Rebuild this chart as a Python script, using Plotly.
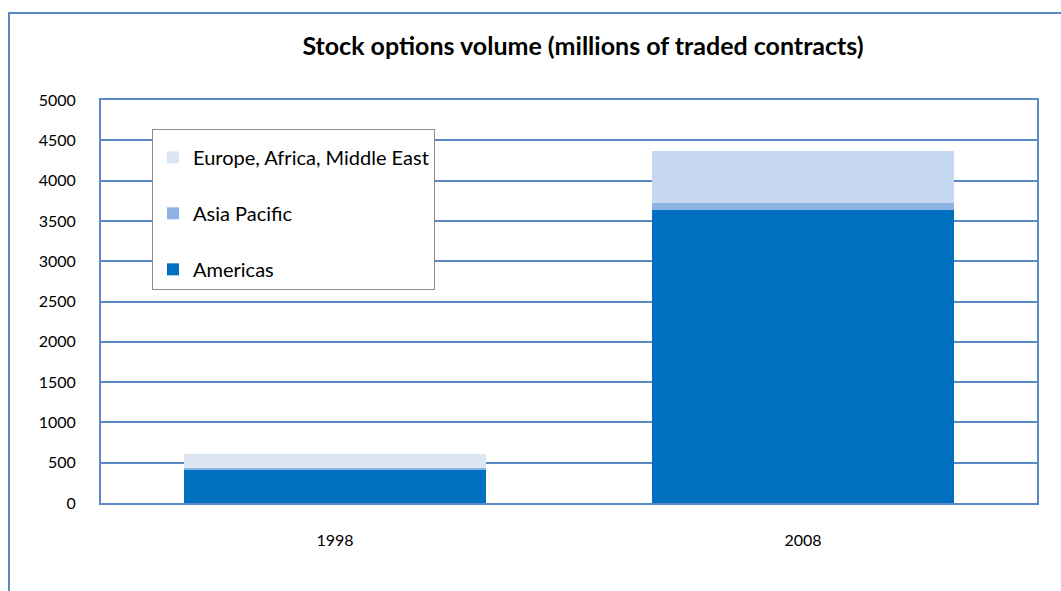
import plotly.graph_objects as go

# Stock options volume, millions of traded contracts
years = ["1998", "2008"]
americas = [413, 3636]
asia_pacific = [20, 83]
emea = [177, 648]

y_ticks = [0, 500, 1000, 1500, 2000, 2500, 3000, 3500, 4000, 4500, 5000]

FONT = "Lato"
AXIS_BLUE = "#5B89C6"

fig = go.Figure()
fig.add_trace(go.Bar(x=years, y=americas, name="Americas",
                     marker=dict(color="#0070C0", line=dict(width=0)),
                     legendgroup="a", legendrank=3))
fig.add_trace(go.Bar(x=years, y=asia_pacific, name="Asia Pacific",
                     marker=dict(color="#8DB3E2", line=dict(width=0)),
                     legendgroup="b", legendrank=2))
fig.add_trace(go.Bar(x=years, y=emea, name="Europe, Africa, Middle East",
                     marker=dict(color=["#DCE6F2", "#C6D9F1"], line=dict(width=0)),
                     legendgroup="c", legendrank=1))

# outer chart frame (partly clipped by the page edge)
fig.add_shape(type="rect", xref="paper", yref="paper",
              x0=-0.0983, x1=1.2, y0=-0.4, y1=1.2157,
              line=dict(color=AXIS_BLUE, width=2), fillcolor="rgba(0,0,0,0)",
              layer="below")

fig.update_layout(
    width=1061, height=591,
    margin=dict(l=101, r=24, t=100, b=88),
    paper_bgcolor="white", plot_bgcolor="white",
    barmode="stack", bargap=0.353,
    showlegend=True,
    title=dict(text="<b>Stock options volume (millions of traded contracts)</b>",
               x=0.515, xanchor="center", xref="paper",
               y=1 - 46 / 591, yref="container", yanchor="middle",
               font=dict(family=FONT, size=25, color="black")),
    legend=dict(x=0.0545, y=0.928, xanchor="left", yanchor="top",
                bgcolor="white", bordercolor="#8C8C8C", borderwidth=1,
                traceorder="grouped", tracegroupgap=27,
                title=dict(text=" ", font=dict(size=6)),
                font=dict(family=FONT, size=20, color="black"),
                itemwidth=30),
    font=dict(family=FONT, size=16, color="black"),
    hovermode=False,
)

fig.update_xaxes(showgrid=False, showline=True, linecolor=AXIS_BLUE, linewidth=2,
                 mirror=True, ticks="", ticklabelstandoff=22,
                 tickfont=dict(family=FONT, size=16))
fig.update_yaxes(range=[0, 5000], tickvals=y_ticks, showgrid=True,
                 gridcolor=AXIS_BLUE, gridwidth=1.5, zeroline=False,
                 showline=True, linecolor=AXIS_BLUE, linewidth=2, mirror=True,
                 ticks="", ticklabelstandoff=20,
                 tickfont=dict(family=FONT, size=16))

fig.write_html("out.html")
